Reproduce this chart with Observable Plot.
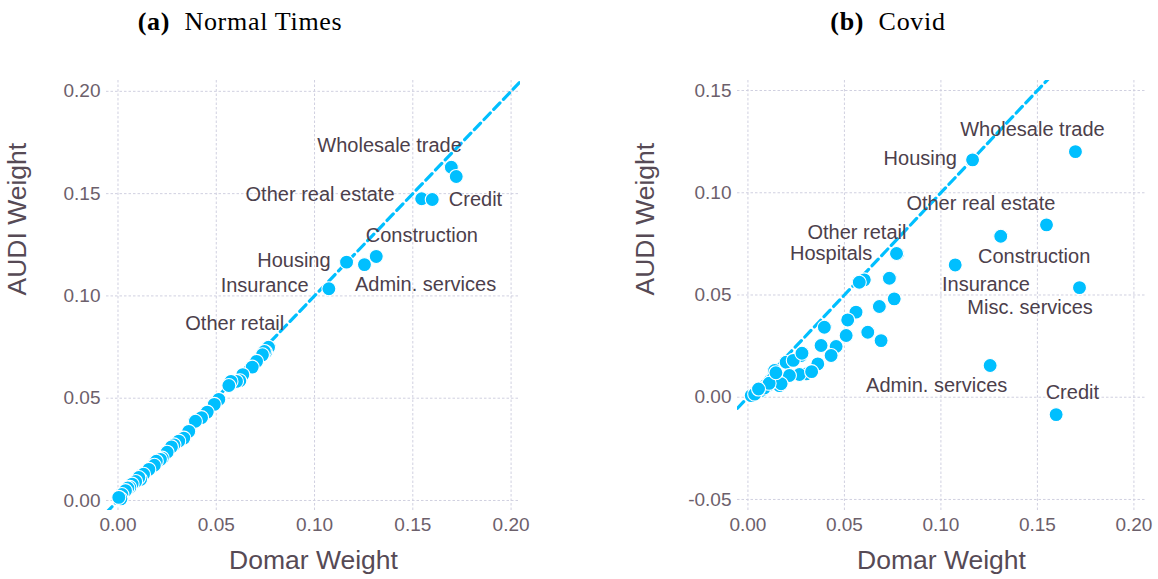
<!DOCTYPE html>
<html><head><meta charset="utf-8">
<script src="https://cdn.jsdelivr.net/npm/d3@7"></script>
<script src="https://cdn.jsdelivr.net/npm/@observablehq/plot@0.6"></script>
<style>
body{margin:0;background:#fff;}
#wrap{position:relative;width:1158px;height:579px;overflow:hidden;background:#fff;}
.title{position:absolute;top:8px;font-family:"Liberation Serif","Times New Roman",serif;font-size:26px;line-height:28px;color:#000;text-align:center;white-space:nowrap;letter-spacing:0.7px;}
.panel{position:absolute;top:50px;}
</style></head><body>
<div id="wrap">
 <div class="title" style="left:0;width:480px"><b>(a)</b>&nbsp; Normal Times</div>
 <div class="title" style="left:688px;width:400px"><b>(b)</b>&nbsp; Covid</div>
 <div class="panel" id="left" style="left:0"></div>
 <div class="panel" id="right" style="left:579px"></div>
</div>
<script>
// ---------- (a) Normal Times ----------
const normalDomar = [0.1696,0.1721,0.1545,0.1599,0.1314,0.1254,0.1163,0.1073,0.0766,0.0751,
  0.0745,0.0735,0.0705,0.0683,0.0635,0.0620,0.0603,0.0575,0.0564,0.0513,0.0490,0.0454,0.0425,
  0.0394,0.0360,0.0335,0.0309,0.0285,0.0272,0.0250,0.0225,0.0216,0.0195,0.0185,0.0157,0.0130,
  0.0115,0.0106,0.0090,0.0072,0.0060,0.0050,0.0038,0.0020,0.0015,0.0004];
const normalAudi = [0.1629,0.1584,0.1475,0.1471,0.1193,0.1153,0.1165,0.1035,0.0749,0.0725,
  0.0728,0.0712,0.0680,0.0652,0.0615,0.0585,0.0582,0.0582,0.0562,0.0494,0.0470,0.0432,0.0405,
  0.0387,0.0338,0.0305,0.0290,0.0272,0.0262,0.0236,0.0207,0.0201,0.0192,0.0172,0.0152,0.0128,
  0.0103,0.0112,0.0093,0.0080,0.0064,0.0061,0.0048,0.0029,0.0008,0.0015];
const normalLabels = ["Wholesale trade","Credit","Other real estate","Construction","Housing","Insurance","Admin. services","Other retail"];
const normalLabelX = [0.1382,0.1819,0.1028,0.1546,0.0895,0.0746,0.1565,0.0594];
const normalLabelY = [0.1735,0.1471,0.1496,0.1295,0.1173,0.1051,0.1056,0.0864];

// ---------- (b) Covid ----------
const covidDomar = [0.1164,0.1697,0.1547,0.1310,0.1074,0.1718,0.1255,0.1597,0.0776,0.0770,
  0.0733,0.0758,0.0681,0.0603,0.0577,0.0560,0.0517,0.0509,0.0621,0.0690,0.0396,0.0379,0.0457,
  0.0431,0.0276,0.0362,0.0302,0.0267,0.0198,0.0215,0.0138,0.0129,0.0163,0.0103,0.0069,0.0017,
  0.0172,0.0085,0.0040,0.0110,0.0145,0.0235,0.0280,0.0330,0.0035,0.0055];
const covidAudi = [0.1161,0.1201,0.0843,0.0787,0.0647,0.0536,0.0155,-0.0085,0.0701,0.0703,
  0.0582,0.0481,0.0444,0.0574,0.0562,0.0416,0.0378,0.0302,0.0318,0.0277,0.0342,0.0253,0.0248,
  0.0204,0.0204,0.0163,0.0114,0.0111,0.0171,0.0106,0.0131,0.0090,0.0057,0.0057,0.0033,0.0008,
  0.0066,0.0045,0.0022,0.0068,0.0120,0.0180,0.0215,0.0125,0.0015,0.0040];
const covidLabels = ["Housing","Wholesale trade","Other real estate","Construction","Insurance","Misc. services","Admin. services","Credit","Other retail","Hospitals"];
const covidLabelX = [0.0893,0.1474,0.1207,0.1483,0.1233,0.1462,0.0978,0.1681,0.0565,0.0431];
const covidLabelY = [0.1166,0.1308,0.0946,0.0690,0.0551,0.0440,0.0056,0.0024,0.0804,0.0701];

const xTicks = [0, 0.05, 0.10, 0.15, 0.20];
const normalYTicks = [0, 0.05, 0.10, 0.15, 0.20];
const covidYTicks = [-0.05, 0, 0.05, 0.10, 0.15];
const diag = [-0.1, 0.3];

const BLUE = "#00BFFF";
const GRID = "#D0D0E0";
const TICK = "#6c606b";
const AXLAB = "#564a55";
const PTLAB = "#4c404b";
const fmt = d => d.toFixed(2);

function panel({domar, audi, labels, lx, ly, xDomain, yDomain, yTicks, marginLeft, marginRight, yLabelDx}) {
  const pts = domar.map((d, i) => ({x: d, y: audi[i]}));
  const labs = labels.map((n, i) => ({name: n, x: lx[i], y: ly[i]}));
  return Plot.plot({
    width: 579, height: 529,
    marginTop: 30, marginBottom: 69, marginLeft, marginRight,
    x: {domain: xDomain},
    y: {domain: yDomain},
    style: {fontFamily: "'Liberation Sans', Arial, sans-serif", background: "white", overflow: "visible"},
    marks: [
      Plot.gridX(xTicks, {stroke: GRID, strokeOpacity: 1, strokeWidth: 1, strokeDasharray: "2.5,2"}),
      Plot.gridY(yTicks, {stroke: GRID, strokeOpacity: 1, strokeWidth: 1, strokeDasharray: "2.5,2"}),
      Plot.axisX(xTicks, {tickSize: 0, tickPadding: 7, tickFormat: fmt, fontSize: 19, fill: TICK, label: null}),
      Plot.axisY(yTicks, {tickSize: 0, tickPadding: 6, tickFormat: fmt, fontSize: 19, fill: TICK, label: null}),
      Plot.text(["Domar Weight"], {frameAnchor: "bottom", dy: 58, fontSize: 26.5, fill: AXLAB}),
      Plot.text(["AUDI Weight"], {frameAnchor: "left", dx: yLabelDx, rotate: -90, fontSize: 26.5, fill: AXLAB}),
      Plot.line(diag, {x: d => d, y: d => d, clip: true, stroke: BLUE, strokeWidth: 3.2, strokeDasharray: "9,5"}),
      Plot.dot(pts, {x: "x", y: "y", r: 7, fill: BLUE, fillOpacity: 1, stroke: "white", strokeWidth: 1.1}),
      Plot.text(labs, {x: "x", y: "y", text: "name", fontSize: 20, fill: PTLAB})
    ]
  });
}

document.getElementById("left").appendChild(panel({
  domar: normalDomar, audi: normalAudi, labels: normalLabels, lx: normalLabelX, ly: normalLabelY,
  xDomain: [-0.00585, 0.2048], yDomain: [-0.0049, 0.2053], yTicks: normalYTicks,
  marginLeft: 106, marginRight: 59, yLabelDx: -89
}));
document.getElementById("right").appendChild(panel({
  domar: covidDomar, audi: covidAudi, labels: covidLabels, lx: covidLabelX, ly: covidLabelY,
  xDomain: [-0.0054, 0.206], yDomain: [-0.0554, 0.1549], yTicks: covidYTicks,
  marginLeft: 158, marginRight: 13, yLabelDx: -92
}));
</script>
</body></html>
